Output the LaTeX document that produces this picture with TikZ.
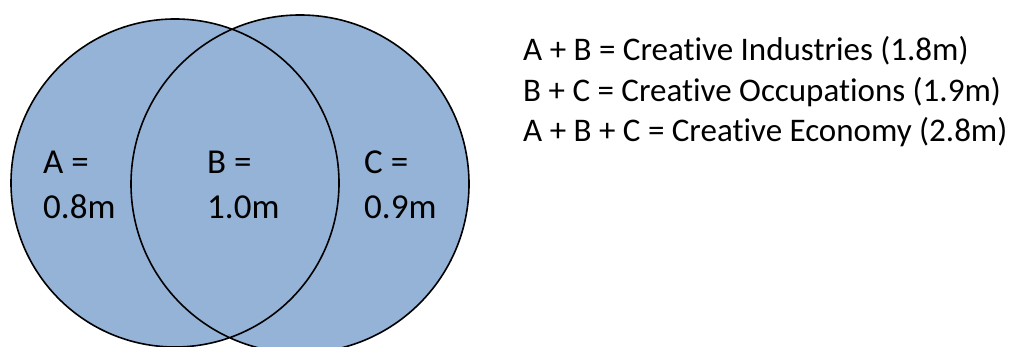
\documentclass[tikz,border=0pt]{standalone}
\usepackage{fontspec}
\setmainfont{Carlito}[Ligatures=NoCommon]
\definecolor{vennblue}{HTML}{95B3D7}
\tikzset{
  region/.style={anchor=base west, align=left, inner sep=0pt,
    font=\fontsize{35}{45}\selectfont},
  legend/.style={anchor=base west, align=left, inner sep=0pt,
    font=\fontsize{33}{40.5}\selectfont}
}
\begin{document}
\begin{tikzpicture}[x=1pt, y=1pt]
  \useasboundingbox (0,0) rectangle (1017,347);
  % the two sets
  \coordinate (left) at (175,164);
  \coordinate (right) at (300,163);
  \fill[vennblue] (left) circle (164) (right) circle (169);
  \draw[line width=1.6pt] (left) circle (164) (right) circle (169);

  % region values
  \node (valA) [region] at (43,128) {A =\\0.8m};
  \node (valB) [region] at (207,128) {B =\\1.0m};
  \node (valC) [region] at (364,128) {C =\\0.9m};

  % totals
  \node (sums) [legend] at (523,205) {A + B = Creative Industries (1.8m)\\
    B + C = Creative Occupations (1.9m)\\
    A + B + C = Creative Economy (2.8m)};
\end{tikzpicture}
\end{document}
